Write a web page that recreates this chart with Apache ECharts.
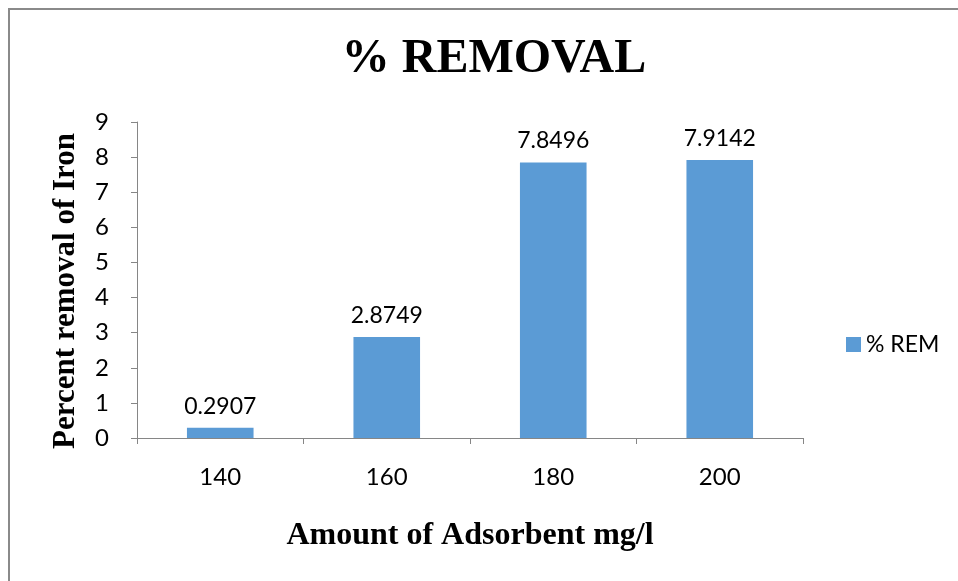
<!DOCTYPE html>
<html>
<head>
<meta charset="utf-8">
<script src="https://cdn.jsdelivr.net/npm/echarts@6/dist/echarts.min.js"></script>
<style>
  html, body { margin: 0; padding: 0; background: #fff; }
  #chart { width: 958px; height: 581px; position: relative; }
  .frame {
    position: absolute;
    left: 8px;
    top: 8px;
    right: 0;
    bottom: 0;
    border-top: 2px solid #8a8a8a;
    border-left: 2px solid #8a8a8a;
    pointer-events: none;
  }
</style>
</head>
<body>
<div style="position:relative;width:958px;height:581px;">
  <div id="chart"></div>
  <div class="frame"></div>
</div>
<script>
// chart data
const categories = ['140', '160', '180', '200'];
const removalValues = [0.2907, 2.8749, 7.8496, 7.9142];
const seriesName = '% REM';

const chart = echarts.init(document.getElementById('chart'));

const axisColor = '#868686';
const labelFont = 'Lato, "Open Sans", sans-serif';
const serifFont = '"Liberation Serif", "DejaVu Serif", serif';

const option = {
  backgroundColor: '#fff',
  animation: false,
  title: {
    text: '% REMOVAL',
    left: 489,
    top: 31,
    textAlign: 'center',
    textStyle: {
      fontFamily: serifFont,
      fontWeight: 'bold',
      fontSize: 48,
      color: '#000'
    }
  },
  legend: {
    data: [seriesName],
    orient: 'vertical',
    left: 841,
    top: 328,
    itemWidth: 15,
    itemHeight: 15,
    itemGap: 7,
    icon: 'rect',
    textStyle: {
      fontFamily: labelFont,
      fontSize: 23,
      color: '#000'
    }
  },
  grid: {
    left: 137,
    right: 155,
    top: 122,
    bottom: 143,
    containLabel: false
  },
  xAxis: {
    type: 'category',
    data: categories,
    name: 'Amount of Adsorbent mg/l',
    nameLocation: 'middle',
    nameGap: 82,
    nameTextStyle: {
      fontFamily: serifFont,
      fontWeight: 'bold',
      fontSize: 32,
      color: '#000'
    },
    axisLine: { lineStyle: { color: axisColor, width: 1 } },
    axisTick: { show: true, length: 6, lineStyle: { color: axisColor } },
    axisLabel: {
      margin: 27,
      fontFamily: labelFont,
      fontSize: 24,
      color: '#000'
    },
    splitLine: { show: false }
  },
  yAxis: {
    type: 'value',
    min: 0,
    max: 9,
    interval: 1,
    name: 'Percent removal of Iron',
    nameLocation: 'middle',
    nameGap: 56,
    nameTextStyle: {
      fontFamily: serifFont,
      fontWeight: 'bold',
      fontSize: 31,
      color: '#000',
      padding: [0, 22, 0, 0]
    },
    axisLine: { show: true, lineStyle: { color: axisColor, width: 1 } },
    axisTick: { show: true, length: 6, lineStyle: { color: axisColor } },
    axisLabel: {
      margin: 28,
      fontFamily: labelFont,
      fontSize: 24,
      color: '#000'
    },
    splitLine: { show: false }
  },
  series: [
    {
      name: seriesName,
      type: 'bar',
      data: removalValues,
      barWidth: '40%',
      itemStyle: { color: '#5B9BD5' },
      label: {
        show: true,
        position: 'top',
        distance: 10,
        fontFamily: labelFont,
        fontSize: 23,
        color: '#000'
      }
    }
  ]
};

chart.setOption(option);
</script>
</body>
</html>
